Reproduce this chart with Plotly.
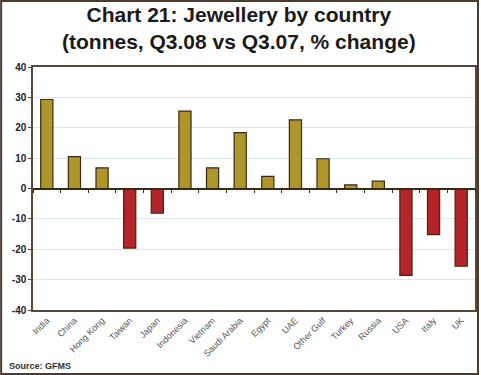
import plotly.graph_objects as go

countries = ["India", "China", "Hong Kong", "Taiwan", "Japan", "Indonesia", "Vietnam",
             "Saudi Arabia", "Egypt", "UAE", "Other Gulf", "Turkey", "Russia", "USA", "Italy", "UK"]
changes = [29.3, 10.5, 6.8, -19.6, -8.1, 25.5, 6.8, 18.4, 4.0, 22.6, 9.8, 1.2, 2.4, -28.6, -15.2, -25.6]
y_ticks = [40, 30, 20, 10, 0, -10, -20, -30, -40]

GOLD = "#AF962A"
RED = "#B52428"
colors = [GOLD if v >= 0 else RED for v in changes]

fig = go.Figure()
fig.add_trace(go.Bar(
    x=countries, y=changes, width=0.44,
    marker=dict(color=colors, line=dict(color="#3A2A10", width=1.2)),
    showlegend=False, hoverinfo="x+y",
))
# invisible trace for the zero-line axis
fig.add_trace(go.Scatter(x=countries, y=[0] * len(countries), xaxis="x2", mode="markers",
                         marker=dict(opacity=0), showlegend=False, hoverinfo="skip"))

frame = "#5A4636"
PW, PH = 444, 243
fig.update_layout(
    width=481, height=375,
    margin=dict(l=33, r=4, t=67, b=65),
    paper_bgcolor="white", plot_bgcolor="white",
    font=dict(family="Liberation Sans Narrow, Arial Narrow, Liberation Sans, sans-serif"),
    xaxis=dict(type="category", categoryorder="array", categoryarray=countries,
               range=[-0.5, len(countries) - 0.5],
               tickangle=-45, tickfont=dict(size=9, color="#555555"),
               showline=True, linecolor=frame, linewidth=1.5, mirror=True,
               ticks="", showgrid=False),
    xaxis2=dict(type="category", categoryorder="array", categoryarray=countries,
                range=[-0.5, len(countries) - 0.5], overlaying="x", anchor="free", position=0.5,
                side="bottom", showline=True, linecolor="#3A2A10", linewidth=1.5,
                ticks="outside", tickson="boundaries", ticklen=4, tickcolor="#3A2A10",
                showticklabels=False, showgrid=False),
    yaxis=dict(range=[-40, 40], tickvals=y_ticks, ticktext=[f"<b>{v}</b>" for v in y_ticks],
               ticks="outside", ticklen=3, tickcolor=frame,
               tickfont=dict(size=10, color="#222222"),
               showline=True, linecolor=frame, linewidth=1.5, mirror=True,
               showgrid=True, gridcolor="#DCE6EE", gridwidth=1, zeroline=False),
    bargap=0.5,
    shapes=[dict(type="rect", xref="paper", yref="paper",
                 x0=-32 / PW, x1=1 + 3 / PW, y0=-64 / PH, y1=1 + 66 / PH,
                 line=dict(color="#4A3A30", width=2))],
    annotations=[
        dict(text="<b>Chart 21: Jewellery by country<br>(tonnes, Q3.08 vs Q3.07, % change)</b>",
             xref="paper", yref="paper", x=(240 - 33) / PW, y=1 + 66 / PH,
             xanchor="center", yanchor="top", showarrow=False,
             font=dict(family="Liberation Sans, Arial, sans-serif", size=21, color="#1A1A1A")),
        dict(text="<b>Source: GFMS</b>", xref="paper", yref="paper",
             x=-26 / PW, y=-56 / PH, xanchor="left", yanchor="middle", showarrow=False,
             font=dict(size=9, color="#333333",
                       family="Liberation Sans Narrow, Arial Narrow, Liberation Sans, sans-serif")),
    ],
)

fig.write_html("out.html", config={"displayModeBar": False},
               post_script="document.body.style.margin='0';document.body.style.padding='0';")
